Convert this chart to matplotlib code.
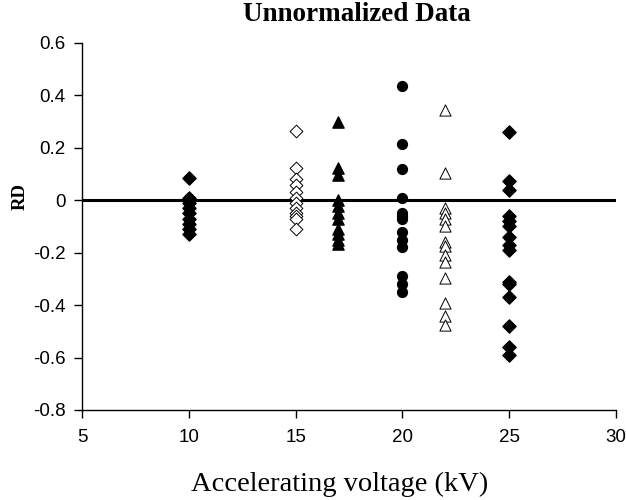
import matplotlib
matplotlib.use("Agg")
import matplotlib.pyplot as plt

# RD values, grouped by accelerating voltage (kV)
rd_10 = [0.085, 0.01, -0.01, -0.03, -0.05, -0.07, -0.09, -0.11, -0.13]
rd_15 = [0.265, 0.125, 0.08, 0.06, 0.03, 0.01, -0.01, -0.03, -0.05, -0.06, -0.07, -0.11]
rd_17 = [0.30, 0.125, 0.095, 0.0, -0.02, -0.05, -0.07, -0.11, -0.13, -0.15, -0.165]
rd_20 = [0.435, 0.215, 0.12, 0.01, -0.05, -0.06, -0.07, -0.12, -0.15, -0.18, -0.29, -0.32, -0.35]
rd_22 = [0.345, 0.105, -0.03, -0.05, -0.07, -0.10, -0.16, -0.175, -0.21, -0.235, -0.295, -0.39, -0.44, -0.475]
rd_25 = [0.26, 0.075, 0.04, -0.06, -0.08, -0.10, -0.14, -0.17, -0.19, -0.31, -0.32, -0.37, -0.48, -0.56, -0.59]

xticks = [5, 10, 15, 20, 25, 30]
yticks = [-0.8, -0.6, -0.4, -0.2, 0, 0.2, 0.4, 0.6]
ytick_labels = ["-0.8", "-0.6", "-0.4", "-0.2", "0", "0.2", "0.4", "0.6"]

fig = plt.figure(figsize=(6.26, 5.0), dpi=100)
ax = fig.add_axes([82 / 626, 1 - 410 / 500, (616 - 82) / 626, (410 - 43) / 500])

ax.axhline(0, color="black", lw=2.2, zorder=1)

ax.scatter([10] * len(rd_10), rd_10, marker="D", s=45, c="black", zorder=3)
ax.scatter([15] * len(rd_15), rd_15, marker="D", s=42, facecolors="white",
           edgecolors="black", linewidths=0.7, zorder=3)
ax.scatter([17] * len(rd_17), rd_17, marker="^", s=65, c="black", zorder=3)
ax.scatter([20] * len(rd_20), rd_20, marker="o", s=50, c="black", zorder=3)
ax.scatter([22] * len(rd_22), rd_22, marker="^", s=65, facecolors="white",
           edgecolors="black", linewidths=0.7, zorder=3)
ax.scatter([25] * len(rd_25), rd_25, marker="D", s=45, c="black", zorder=3)

ax.set_xlim(5, 30)
ax.set_ylim(-0.8, 0.6)
ax.set_xticks(xticks)
ax.set_yticks(yticks)
ax.set_yticklabels(ytick_labels)
ax.tick_params(direction="out", length=6, width=1, labelsize=13.5)
ax.tick_params(axis="x", pad=8)
ax.tick_params(axis="y", pad=6)
for lab in ax.get_xticklabels() + ax.get_yticklabels():
    lab.set_family("Liberation Sans")

ax.spines["top"].set_visible(False)
ax.spines["right"].set_visible(False)
ax.spines["left"].set_linewidth(1)
ax.spines["bottom"].set_linewidth(1)

fig.text(340 / 626, 1 - 484 / 500, "Accelerating voltage (kV)", family="Liberation Serif",
         fontsize=20.5, ha="center", va="center")
fig.text(20 / 626, 1 - 196 / 500, "RD", family="Liberation Serif", fontweight="bold",
         fontsize=13.5, rotation=90, ha="center", va="center")
fig.text(357 / 626, 1 - 2 / 500, "Unnormalized Data", family="Liberation Serif",
         fontweight="bold", fontsize=19.5, ha="center", va="top")

fig.savefig("out.png", dpi=100)
